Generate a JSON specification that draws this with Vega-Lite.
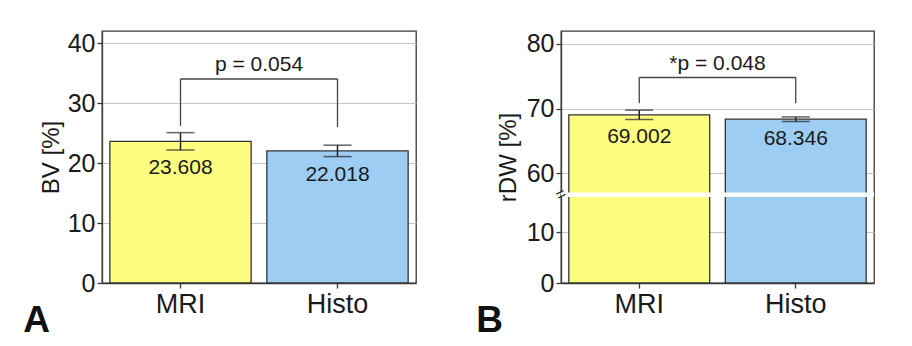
{
  "$schema": "https://vega.github.io/schema/vega-lite/v6.json",
  "padding": {"left": 22, "top": 30, "right": 5, "bottom": 5},
  "background": "white",
  "config": {
    "font": "Liberation Sans",
    "view": {"stroke": "#3a3a3a", "strokeWidth": 1.3},
    "axis": {
      "labelFont": "Liberation Sans",
      "titleFont": "Liberation Sans",
      "labelColor": "#1a1a1a",
      "titleColor": "#1a1a1a",
      "domainColor": "#3a3a3a",
      "tickColor": "#3a3a3a",
      "domainWidth": 1.3,
      "tickWidth": 1.3,
      "titleFontWeight": "normal"
    }
  },
  "datasets": {
    "bv": [
      {"group": "MRI", "value": 23.608, "lo": 22.16, "hi": 25.06, "leg": 26.2},
      {"group": "Histo", "value": 22.018, "lo": 21.07, "hi": 22.97, "leg": 26.0}
    ],
    "bvp": [{"from": "MRI", "to": "Histo", "top": 34, "label": "p = 0.054"}],
    "rdw": [
      {"group": "MRI", "value": 69.002, "lo": 68.3, "hi": 69.75, "leg": 70.8},
      {"group": "Histo", "value": 68.346, "lo": 67.99, "hi": 68.7, "leg": 70.8}
    ],
    "rdwp": [{"from": "MRI", "to": "Histo", "top": 74.8, "label": "*p = 0.048"}],
    "gap": [{"lo": 17, "hi": 57, "mid": 37, "at": "MRI", "sym": "="}]
  },
  "hconcat": [
    {
      "width": 314,
      "height": 252,
      "title": {"text": "A", "orient": "bottom", "anchor": "start", "fontSize": 37, "fontWeight": "bold", "color": "#111", "dx": -16, "dy": -18},
      "layer": [
        {
          "data": {"name": "bv"},
          "mark": {"type": "bar", "stroke": "#333", "strokeWidth": 1.3},
          "encoding": {
            "x": {"field": "group", "type": "nominal", "title": null,
              "scale": {"domain": ["MRI", "Histo"], "paddingInner": 0.1, "paddingOuter": 0.05},
              "axis": {"labelAngle": 0, "labelFontSize": 27, "tickSize": 5, "labelPadding": 3}},
            "y": {"field": "value", "type": "quantitative", "title": "BV [%]",
              "scale": {"domain": [0, 42], "nice": false},
              "axis": {"titleFontSize": 24, "titlePadding": 4, "labelFontSize": 25, "labelPadding": 2,
                "values": [0, 5, 10, 15, 20, 25, 30, 35, 40],
                "labelExpr": "datum.value % 10 === 0 ? datum.label : ''",
                "tickSize": {"condition": {"test": "datum.value % 10 === 0", "value": 5}, "value": 3},
                "grid": true, "gridColor": "#c4c4c4", "gridWidth": 1.2,
                "gridOpacity": {"condition": {"test": "datum.value % 10 === 0 && datum.value > 0", "value": 1}, "value": 0}}},
            "color": {"field": "group", "type": "nominal", "scale": {"domain": ["MRI", "Histo"], "range": ["#fdfd80", "#9dcdf3"]}, "legend": null}
          }
        },
        {
          "data": {"name": "bv"},
          "mark": {"type": "rule", "color": "#222", "strokeWidth": 1.5},
          "encoding": {
            "x": {"field": "group", "type": "nominal", "title": null},
            "y": {"field": "lo", "type": "quantitative", "title": "BV [%]"},
            "y2": {"field": "hi"}
          }
        },
        {
          "data": {"name": "bv"},
          "mark": {"type": "tick", "color": "#222", "thickness": 1.5, "size": 28},
          "encoding": {
            "x": {"field": "group", "type": "nominal", "title": null},
            "y": {"field": "lo", "type": "quantitative", "title": "BV [%]"}
          }
        },
        {
          "data": {"name": "bv"},
          "mark": {"type": "tick", "color": "#222", "thickness": 1.5, "size": 28},
          "encoding": {
            "x": {"field": "group", "type": "nominal", "title": null},
            "y": {"field": "hi", "type": "quantitative", "title": "BV [%]"}
          }
        },
        {
          "data": {"name": "bv"},
          "mark": {"type": "text", "fontSize": 21, "color": "#1a1a1a", "baseline": "middle", "dy": 18},
          "encoding": {
            "x": {"field": "group", "type": "nominal", "title": null},
            "y": {"field": "lo", "type": "quantitative", "title": "BV [%]"},
            "text": {"field": "value", "type": "quantitative", "format": ".3f"}
          }
        },
        {
          "data": {"name": "bv"},
          "mark": {"type": "rule", "color": "#444", "strokeWidth": 1.3},
          "encoding": {
            "x": {"field": "group", "type": "nominal", "title": null},
            "y": {"field": "leg", "type": "quantitative", "title": "BV [%]"},
            "y2": {"datum": 34}
          }
        },
        {
          "data": {"name": "bvp"},
          "mark": {"type": "rule", "color": "#444", "strokeWidth": 1.3},
          "encoding": {
            "x": {"field": "from", "type": "nominal", "title": null},
            "x2": {"field": "to"},
            "y": {"field": "top", "type": "quantitative", "title": "BV [%]"}
          }
        },
        {
          "data": {"name": "bvp"},
          "mark": {"type": "text", "fontSize": 21, "color": "#1a1a1a", "baseline": "alphabetic", "dy": -8},
          "encoding": {
            "x": {"field": "from", "type": "nominal", "title": null, "bandPosition": 1.0556},
            "y": {"field": "top", "type": "quantitative", "title": "BV [%]"},
            "text": {"field": "label"}
          }
        }
      ]
    },
    {
      "width": 313,
      "height": 252,
      "title": {"text": "B", "orient": "bottom", "anchor": "start", "fontSize": 37, "fontWeight": "bold", "color": "#111", "dx": -20, "dy": -18},
      "layer": [
        {
          "data": {"name": "rdw"},
          "mark": {"type": "bar", "stroke": "#333", "strokeWidth": 1.3},
          "encoding": {
            "x": {"field": "group", "type": "nominal", "title": null,
              "scale": {"domain": ["MRI", "Histo"], "paddingInner": 0.1, "paddingOuter": 0.05},
              "axis": {"labelAngle": 0, "labelFontSize": 27, "tickSize": 5, "labelPadding": 3}},
            "y": {"field": "value", "type": "quantitative", "title": "rDW [%]",
              "scale": {"domain": [0, 17, 57, 82], "range": [252, 166, 161.5, 0], "nice": false, "zero": false},
              "axis": {"titleFontSize": 24, "titlePadding": 6, "labelFontSize": 25, "labelPadding": 2,
                "values": [0, 5, 10, 15, 60, 65, 70, 75, 80],
                "labelExpr": "datum.value % 10 === 0 ? datum.label : ''",
                "tickSize": {"condition": {"test": "datum.value % 10 === 0", "value": 5}, "value": 3},
                "grid": true, "gridColor": "#c4c4c4", "gridWidth": 1.2,
                "gridOpacity": {"condition": {"test": "datum.value % 10 === 0 && datum.value > 0", "value": 1}, "value": 0}}},
            "color": {"field": "group", "type": "nominal", "scale": {"domain": ["MRI", "Histo"], "range": ["#fdfd80", "#9dcdf3"]}, "legend": null}
          }
        },
        {
          "data": {"name": "gap"},
          "mark": {"type": "rect", "color": "white"},
          "encoding": {
            "y": {"field": "lo", "type": "quantitative", "title": "rDW [%]"},
            "y2": {"field": "hi"}
          }
        },
        {
          "data": {"name": "gap"},
          "mark": {"type": "text", "fontSize": 17, "color": "#222", "angle": -28, "align": "center", "baseline": "middle", "clip": false},
          "encoding": {
            "x": {"field": "at", "type": "nominal", "title": null, "bandPosition": -0.0556},
            "y": {"field": "mid", "type": "quantitative", "title": "rDW [%]"},
            "text": {"field": "sym"}
          }
        },
        {
          "data": {"name": "rdw"},
          "mark": {"type": "rule", "color": "#222", "strokeWidth": 1.5},
          "encoding": {
            "x": {"field": "group", "type": "nominal", "title": null},
            "y": {"field": "lo", "type": "quantitative", "title": "rDW [%]"},
            "y2": {"field": "hi"}
          }
        },
        {
          "data": {"name": "rdw"},
          "mark": {"type": "tick", "color": "#222", "thickness": 1.5, "size": 28},
          "encoding": {
            "x": {"field": "group", "type": "nominal", "title": null},
            "y": {"field": "lo", "type": "quantitative", "title": "rDW [%]"}
          }
        },
        {
          "data": {"name": "rdw"},
          "mark": {"type": "tick", "color": "#222", "thickness": 1.5, "size": 28},
          "encoding": {
            "x": {"field": "group", "type": "nominal", "title": null},
            "y": {"field": "hi", "type": "quantitative", "title": "rDW [%]"}
          }
        },
        {
          "data": {"name": "rdw"},
          "mark": {"type": "text", "fontSize": 21, "color": "#1a1a1a", "baseline": "middle", "dy": 17},
          "encoding": {
            "x": {"field": "group", "type": "nominal", "title": null},
            "y": {"field": "lo", "type": "quantitative", "title": "rDW [%]"},
            "text": {"field": "value", "type": "quantitative", "format": ".3f"}
          }
        },
        {
          "data": {"name": "rdw"},
          "mark": {"type": "rule", "color": "#444", "strokeWidth": 1.3},
          "encoding": {
            "x": {"field": "group", "type": "nominal", "title": null},
            "y": {"field": "leg", "type": "quantitative", "title": "rDW [%]"},
            "y2": {"datum": 74.8}
          }
        },
        {
          "data": {"name": "rdwp"},
          "mark": {"type": "rule", "color": "#444", "strokeWidth": 1.3},
          "encoding": {
            "x": {"field": "from", "type": "nominal", "title": null},
            "x2": {"field": "to"},
            "y": {"field": "top", "type": "quantitative", "title": "rDW [%]"}
          }
        },
        {
          "data": {"name": "rdwp"},
          "mark": {"type": "text", "fontSize": 21, "color": "#1a1a1a", "baseline": "alphabetic", "dy": -8},
          "encoding": {
            "x": {"field": "from", "type": "nominal", "title": null, "bandPosition": 1.0556},
            "y": {"field": "top", "type": "quantitative", "title": "rDW [%]"},
            "text": {"field": "label"}
          }
        }
      ]
    }
  ],
  "spacing": 58
}
